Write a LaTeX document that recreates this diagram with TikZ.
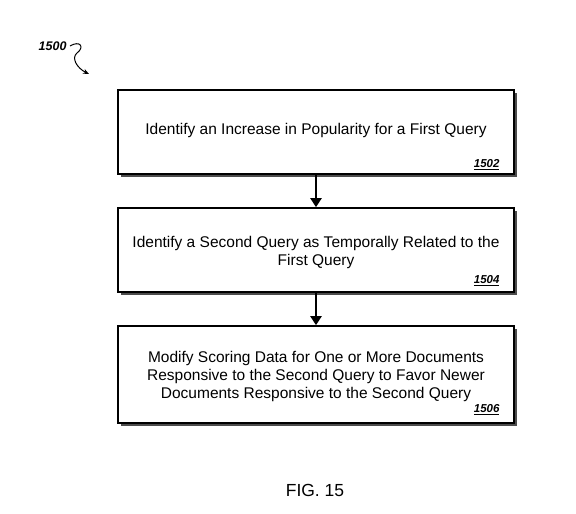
\documentclass[tikz,border=0pt]{standalone}
\usepackage{fontspec}
\setmainfont{Liberation Sans}
\usetikzlibrary{arrows.meta,shadows}
\begin{document}
\begin{tikzpicture}[x=1pt,y=-1pt,
  stepbox/.style={draw=black,line width=1.6pt,fill=white,minimum width=396pt,
    drop shadow={shadow xshift=2.5pt,shadow yshift=-2.5pt,fill=black!70,opacity=1}},
  main/.style={font=\fontsize{15.5}{18}\selectfont,align=center},
  ref/.style={font=\fontsize{11.5}{13}\selectfont\bfseries\itshape},
  flow/.style={line width=2pt,-{Triangle[length=9pt,width=11pt]}}]
\useasboundingbox (0,0) rectangle (576,514);
\node[stepbox,minimum height=84pt] (b1) at (316,132) {};
\node[stepbox,minimum height=84pt] (b2) at (316,250) {};
\node[stepbox,minimum height=97pt] (b3) at (316,374.5) {};
\node[main] (t1) at (316,130) {Identify an Increase in Popularity for a First Query};
\node[main] (t2) at (316,252) {Identify a Second Query as Temporally Related to the\\First Query};
\node[main] (t3) at (316,376) {Modify Scoring Data for One or More Documents\\Responsive to the Second Query to Favor Newer\\Documents Responsive to the Second Query};
\node[ref,anchor=east] (r1) at (503,165) {\underline{1502}};
\node[ref,anchor=east] (r2) at (503,281) {\underline{1504}};
\node[ref,anchor=east] (r3) at (503,410) {\underline{1506}};
\draw[flow] (b1.south) -- (b2.north);
\draw[flow] (b2.south) -- (b3.north);
\node[ref,anchor=east,font=\fontsize{12.5}{15}\selectfont\bfseries\itshape] (r0) at (70,46) {1500};
\coordinate (c0) at (89,74);
\draw[line width=1pt,-{Stealth[length=6pt,width=5pt]}] (r0.east) .. controls (80,40) and (85,47) .. (77,53) .. controls (71,58) and (77,68) .. (c0);
\node[font=\fontsize{17.5}{20}\selectfont] (fig) at (315,490) {FIG. 15};
\end{tikzpicture}
\end{document}
